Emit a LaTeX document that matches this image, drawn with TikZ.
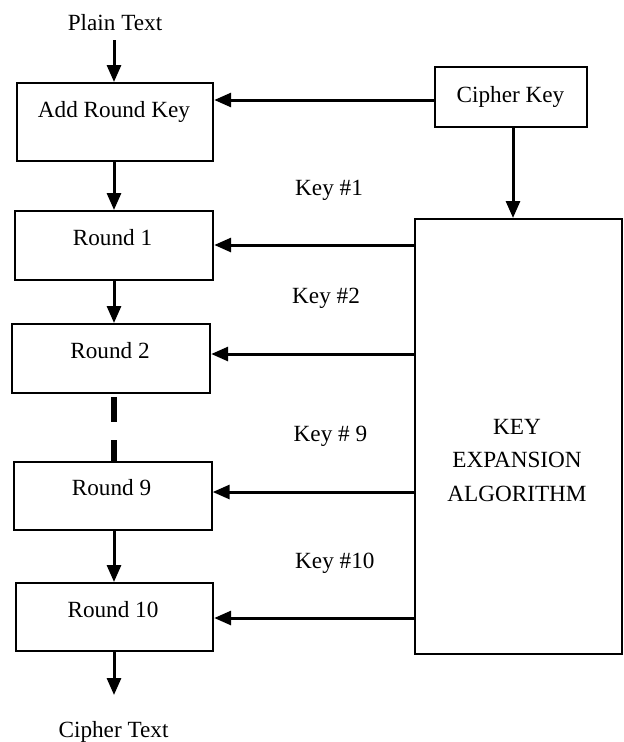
\documentclass[tikz,border=0pt]{standalone}
\usepackage{fontspec}
\setmainfont{Liberation Serif}
\usetikzlibrary{arrows.meta}

\begin{document}
\begin{tikzpicture}[x=1pt,y=-1pt,
  every node/.style={font=\fontsize{23.2}{32}\selectfont},
  blk/.style={draw, line width=2.2pt, inner sep=0pt, anchor=north west},
  txt/.style={inner sep=0pt, anchor=base},
  ktxt/.style={inner sep=0pt, anchor=base west},
  arr/.style={line width=3pt, -{Triangle[length=17pt,width=14pt]}},
  gapline/.style={line width=5.5pt, dash pattern=on 25pt off 18pt, dash phase=40pt}]

  \useasboundingbox (0,0) rectangle (624,742);

  % boxes of the encryption chain
  \node[blk, minimum width=196pt, minimum height=78pt] (ark) at (16,82) {};
  \node[blk, minimum width=198pt, minimum height=69pt] (r1) at (14,210) {};
  \node[blk, minimum width=198pt, minimum height=69pt] (r2) at (11,323) {};
  \node[blk, minimum width=198pt, minimum height=68pt] (r9) at (12.5,461) {};
  \node[blk, minimum width=197pt, minimum height=68pt] (r10) at (15,582) {};

  % key side
  \node[blk, minimum width=152pt, minimum height=60pt] (ck) at (434,66) {};
  \node[blk, minimum width=207pt, minimum height=435pt] (kea) at (414,218) {};

  % texts
  \node[txt] (pt) at (115,30) {Plain Text};
  \node[txt] at (114,117) {Add Round Key};
  \node[txt] at (112.5,245) {Round 1};
  \node[txt] at (110,358) {Round 2};
  \node[txt] at (111.5,495) {Round 9};
  \node[txt] at (113,617) {Round 10};
  \node[txt] (ct) at (113.5,737) {Cipher Text};
  \node[txt] at (510.5,102) {Cipher Key};
  \node[txt] at (517,434) {KEY};
  \node[txt] at (517,467) {EXPANSION};
  \node[txt] at (517,501) {ALGORITHM};

  \node[ktxt] at (295,195) {Key \#1};
  \node[ktxt] at (292,303.5) {Key \#2};
  \node[ktxt] at (293.5,441.5) {Key \# 9};
  \node[ktxt] at (295,568.5) {Key \#10};

  % row levels of the key connectors
  \coordinate (k0) at (0,100);
  \coordinate (k1) at (0,245);
  \coordinate (k2) at (0,354);
  \coordinate (k9) at (0,492);
  \coordinate (k10) at (0,618);
  \coordinate (pin) at (114,40);
  \coordinate (pout) at (114,695);
  \coordinate (ckout) at (513,0);

  % data path
  \draw[arr] (pin) -- (pin |- ark.north);
  \draw[arr] (pin |- ark.south) -- (pin |- r1.north);
  \draw[arr] (pin |- r1.south) -- (pin |- r2.north);
  \draw[gapline] (pin |- r2.south) -- (pin |- r9.north);
  \draw[arr] (pin |- r9.south) -- (pin |- r10.north);
  \draw[arr] (pin |- r10.south) -- (pout);

  % key path
  \draw[arr] (ck.west |- k0) -- (ark.east |- k0);
  \draw[arr] (ckout |- ck.south) -- (ckout |- kea.north);
  \draw[arr] (kea.west |- k1) -- (r1.east |- k1);
  \draw[arr] (kea.west |- k2) -- (r2.east |- k2);
  \draw[arr] (kea.west |- k9) -- (r9.east |- k9);
  \draw[arr] (kea.west |- k10) -- (r10.east |- k10);
\end{tikzpicture}
\end{document}
